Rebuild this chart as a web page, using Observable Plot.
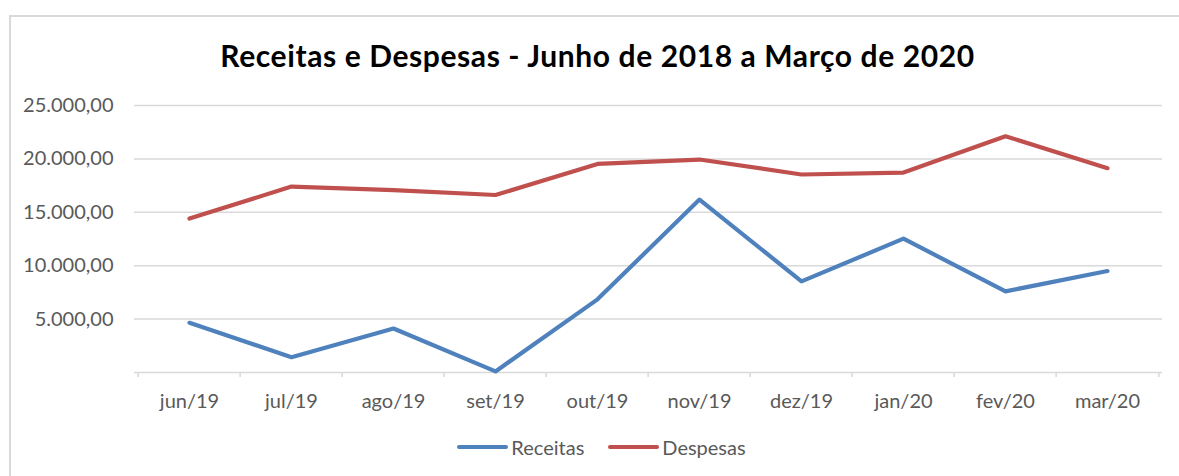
<!DOCTYPE html>
<html>
<head>
<meta charset="utf-8">
<script src="https://cdn.jsdelivr.net/npm/d3@7"></script>
<script src="https://cdn.jsdelivr.net/npm/@observablehq/plot@0.6"></script>
<style>
  html, body { margin: 0; padding: 0; background: #fff; }
  #wrap { position: relative; width: 1179px; height: 476px; overflow: hidden; font-family: Lato, "Open Sans", sans-serif; }
  #frame { position: absolute; left: 9px; top: 15px; right: -5px; bottom: -5px; border-top: 2px solid #d9d9d9; border-left: 2px solid #d9d9d9; }
  #title { position: absolute; left: 8px; width: 1179px; top: 37px; text-align: center; font-size: 30px; letter-spacing: 0.6px; font-weight: bold; color: #000; white-space: nowrap; }
  #legend { position: absolute; top: 435px; left: 0; width: 1179px; display: flex; justify-content: center; gap: 24px; font-size: 20px; color: #595959; padding-left: 24px; box-sizing: border-box; }
  .item { display: flex; align-items: center; gap: 3px; }
  .sw { width: 51px; height: 4px; border-radius: 2px; display: inline-block; }
  #chart { position: absolute; left: 0; top: 0; }
</style>
</head>
<body>
<div id="wrap">
  <div id="frame"></div>
  <div id="chart"></div>
  <div id="title">Receitas e Despesas - Junho de 2018 a Março de 2020</div>
  <div id="legend"></div>
</div>
<script>
const months = ["jun/19","jul/19","ago/19","set/19","out/19","nov/19","dez/19","jan/20","fev/20","mar/20"];
const receitas = [4650, 1430, 4120, 100, 6850, 16190, 8530, 12530, 7600, 9500];
const despesas = [14410, 17410, 17080, 16620, 19530, 19940, 18540, 18720, 22120, 19130];
const yTicks = [5000, 10000, 15000, 20000, 25000];
const seriesNames = ["Receitas", "Despesas"];
const colors = ["#4f81bd", "#c0504d"];

const rows = [];
months.forEach((m, i) => {
  rows.push({month: m, series: "Receitas", value: receitas[i]});
  rows.push({month: m, series: "Despesas", value: despesas[i]});
});

const W = 1179, H = 476;
const mL = 134, mR = 17, mT = 105, mB = 104;
const bw = (W - mL - mR) / months.length;
const fmt = v => d3.format(",.2f")(v).replace(/,/g, "X").replace(/\./g, ",").replace(/X/g, ".");

const chart = Plot.plot({
  width: W, height: H,
  marginLeft: mL, marginRight: mR, marginTop: mT, marginBottom: mB,
  style: {fontFamily: "Lato, 'Open Sans', sans-serif", fontSize: "20px", color: "#595959", background: "transparent"},
  x: {type: "band", domain: months, padding: 0, axis: null, label: null},
  y: {domain: [0, 25000], axis: null, label: null},
  color: {domain: seriesNames, range: colors},
  marks: [
    Plot.ruleY(yTicks, {stroke: "#d9d9d9", strokeWidth: 1.5}),
    Plot.ruleY([0], {stroke: "#d9d9d9", strokeWidth: 1.5}),
    Plot.ruleX(months, {x: d => d, y1: 0, y2: -470, dx: -bw / 2, stroke: "#d9d9d9", strokeWidth: 1.5}),
    Plot.ruleX([months[months.length - 1]], {x: d => d, y1: 0, y2: -470, dx: bw / 2, stroke: "#d9d9d9", strokeWidth: 1.5}),
    Plot.axisY({ticks: yTicks, tickSize: 0, tickPadding: 21, tickFormat: fmt, fontSize: 20, fill: "#595959", label: null}),
    Plot.axisX({tickSize: 0, tickPadding: 21, fontSize: 20, fill: "#595959", label: null}),
    Plot.line(rows, {x: "month", y: "value", z: "series", stroke: "series", strokeWidth: 4.2, strokeLinecap: "round", strokeLinejoin: "round"})
  ]
});
document.getElementById("chart").appendChild(chart);

const leg = document.getElementById("legend");
seriesNames.forEach((s, i) => {
  const it = document.createElement("div");
  it.className = "item";
  it.innerHTML = `<span class="sw" style="background:${colors[i]}"></span><span>${s}</span>`;
  leg.appendChild(it);
});
</script>
</body>
</html>
